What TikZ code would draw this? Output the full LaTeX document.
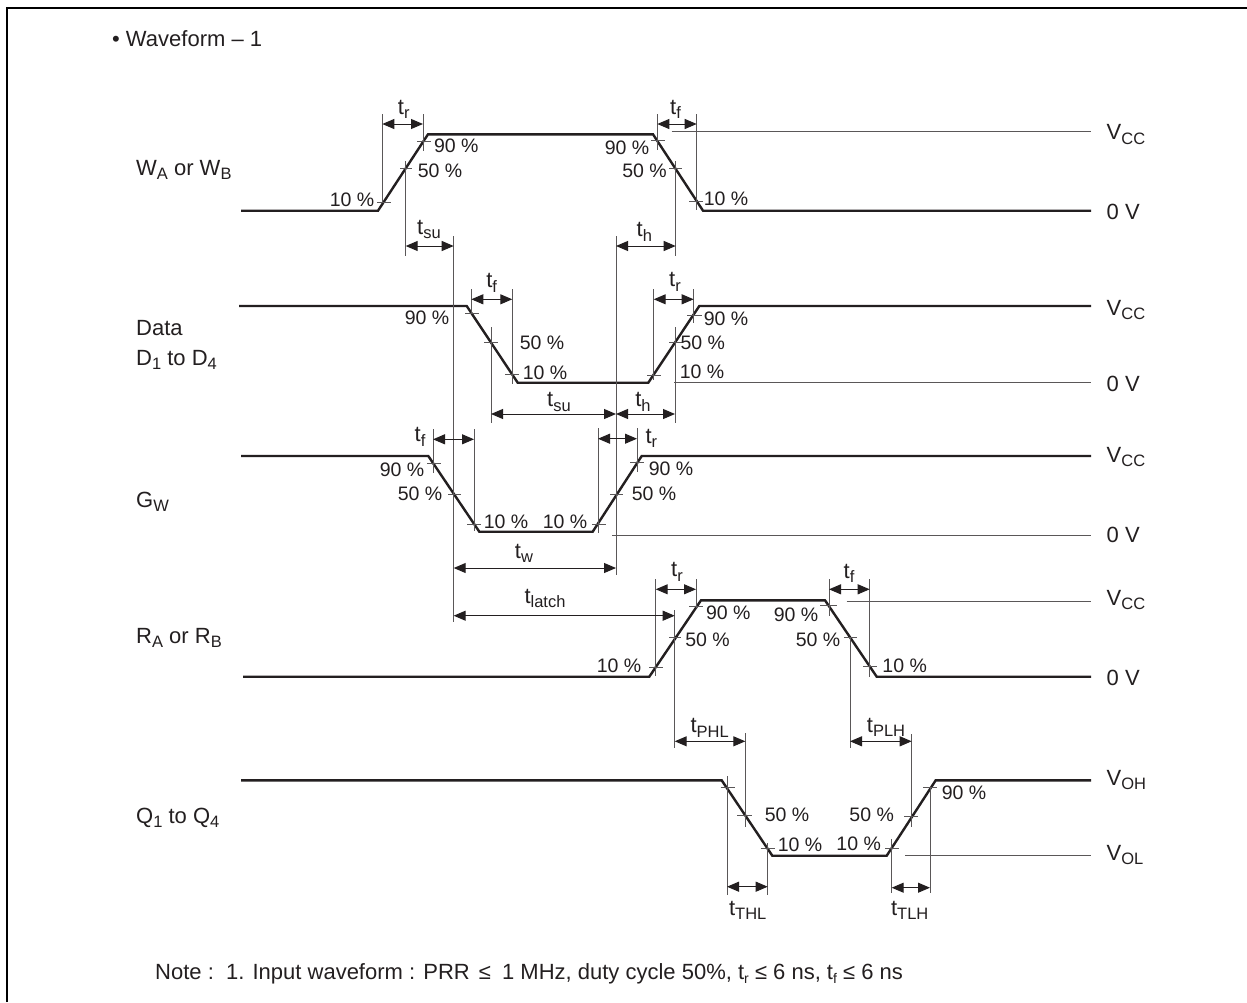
\documentclass[tikz,border=0pt]{standalone}
\usepackage{fontspec}
\setmainfont{Liberation Sans}
\usetikzlibrary{arrows.meta}
\definecolor{ink}{HTML}{231F20}
\tikzset{
 wave/.style={draw=ink,line width=2.4pt,line join=miter},
 thin line/.style={draw=ink!75,line width=1pt},
 tick/.style={draw=ink!75,line width=1pt},
 dim/.style={draw=ink,line width=1pt,{Triangle[length=12pt,width=10pt]}-{Triangle[length=12pt,width=10pt]}},
 lab/.style={anchor=base,inner sep=0pt,text=ink,font=\fontsize{19.5}{23}\selectfont},
 tlab/.style={anchor=base,inner sep=0pt,text=ink,font=\fontsize{22}{26}\selectfont},
 labw/.style={anchor=base west,inner sep=0pt,text=ink,font=\fontsize{22}{26}\selectfont},
}
\newcommand{\sbs}[1]{\raisebox{-0.22em}{\fontsize{16.5}{19}\selectfont #1}}
\newcommand{\nsb}[1]{\raisebox{-0.2em}{\fontsize{14}{16}\selectfont #1}}
\begin{document}
\begin{tikzpicture}[x=1pt,y=-1pt]
\useasboundingbox (0,0) rectangle (1247,1002);
\fill[white] (0,0) rectangle (1247,1002);
\draw[draw=black,line width=2pt] (7,1002) -- (7,7.5) -- (1247,7.5);
% waveforms
\draw[wave] (241,210.7) -- (378,210.7) -- (428,134.3) -- (653,134.3) -- (703,210.7) -- (1091,210.7);
\draw[wave] (239,306) -- (466.7,306) -- (517.7,382.7) -- (648.3,382.7) -- (699.3,306) -- (1091,306);
\draw[wave] (241,456) -- (428.3,456) -- (479.3,531.7) -- (592.7,531.7) -- (641.7,456) -- (1091,456);
\draw[wave] (243,676.7) -- (649.3,676.7) -- (701,600.3) -- (825,600.3) -- (876.7,676.7) -- (1091,676.7);
\draw[wave] (241,780.3) -- (721.7,780.3) -- (772.3,855.7) -- (886.7,855.7) -- (935.7,780.3) -- (1091,780.3);
% reference lines
\draw[thin line] (671.7,131.3) -- (1091,131.3);
\draw[thin line] (674,382.7) -- (1091,382.7);
\draw[thin line] (612,535) -- (1091,535);
\draw[thin line] (846.7,601.3) -- (1091,601.3);
\draw[thin line] (905,855.7) -- (1091,855.7);
% verticals
\foreach \x/\a/\b in {382.3/114/203,423/114/151,405.7/161/256,453.7/236/621.7,657.3/114/150,696.7/114/210,675.7/161/256,616/236/575,
 471.3/289/313,512.3/289/384,491/327/422.7,653.7/289/380,693.7/289/323,675/327/422.7,
 433/429/473,474/429/531,598/428/533,637/428/472,
 655.7/579/676,696/579/608,674.7/610/747.7,829/579/616,869.7/579/676.7,850/637/747.7,
 745.3/733.3/826.7,911.7/734/826.7,727/776/895,767.7/843/895,891.7/839/893,930/786.7/893}
 \draw[thin line] (\x,\a) -- (\x,\b);
% ticks
\foreach \y/\a/\b in {202.7/377/391,141.7/417/431,168.7/400/412,140/651/665,168.7/669/682,201/689/703,
 313.3/465/479,342.7/484/498,374.3/505/519,315/687/702,342.7/669/683,375.7/647/661,
 463.3/427/441,494.7/448/461,524.3/467/481,462.7/630/644,494.7/610/623,524.3/592/606,
 606.7/689/703,637.7/669/681,667.7/649/663,605.7/820/837,637.7/844/857,666.7/863/877,
 787.3/720.7/735,815.7/737/751.7,848.3/760.7/775,848.3/885/899,816.7/904/918,787.3/923/937}
 \draw[tick] (\a,\y) -- (\b,\y);
% dimension arrows
\foreach \y/\a/\b in {124/382.3/423,124/657.3/696.7,246/405.7/453.7,246/616/675.7,
 299.3/471.3/512.3,299.3/653.7/693.7,414/491/616,414/616/675,
 439.3/433/474,438.7/598/637,568/453.7/616,615.7/453.7/674.7,
 589.3/655.7/696,589.3/829/869.7,741.3/674.7/745.3,741.3/850/911.7,886.7/727/767.7,887.7/891.7/930}
 \draw[dim] (\a,\y) -- (\b,\y);
% timing labels
\node[tlab] (t1) at (403.7,114) {t\sbs{r}};
\node[tlab] (t2) at (675.5,114) {t\sbs{f}};
\node[tlab] (t3) at (429,234) {t\sbs{su}};
\node[tlab] (t4) at (644.3,236.7) {t\sbs{h}};
\node[tlab] (t5) at (491.6,287.3) {t\sbs{f}};
\node[tlab] (t6) at (675,286.7) {t\sbs{r}};
\node[tlab] (t7) at (559,406.7) {t\sbs{su}};
\node[tlab] (t8) at (643,406.7) {t\sbs{h}};
\node[tlab] (t9) at (420,441.7) {t\sbs{f}};
\node[tlab] (t10) at (651.3,443) {t\sbs{r}};
\node[tlab] (t11) at (524,558) {t\sbs{w}};
\node[tlab] (t12) at (545,603) {t\sbs{latch}};
\node[tlab] (t13) at (677,576.7) {t\sbs{r}};
\node[tlab] (t14) at (849,578) {t\sbs{f}};
\node[tlab] (t15) at (709.7,732.3) {t\sbs{PHL}};
\node[tlab] (t16) at (886,732) {t\sbs{PLH}};
\node[tlab] (t17) at (747.7,915) {t\sbs{THL}};
\node[tlab] (t18) at (909.7,915) {t\sbs{TLH}};
% percent labels
\node[lab] (p1) at (456.3,152.7) {90 \%};
\node[lab] (p2) at (440,177.7) {50 \%};
\node[lab] (p3) at (352,206.7) {10 \%};
\node[lab] (p4) at (627,154) {90 \%};
\node[lab] (p5) at (644.5,177.7) {50 \%};
\node[lab] (p6) at (726,205) {10 \%};
\node[lab] (p7) at (427,324) {90 \%};
\node[lab] (p8) at (726,325) {90 \%};
\node[lab] (p9) at (542,349) {50 \%};
\node[lab] (p10) at (702.8,349) {50 \%};
\node[lab] (p11) at (545,379.3) {10 \%};
\node[lab] (p12) at (702,378.3) {10 \%};
\node[lab] (p13) at (402,476.7) {90 \%};
\node[lab] (p14) at (420,500) {50 \%};
\node[lab] (p15) at (506,528.3) {10 \%};
\node[lab] (p16) at (565,528.3) {10 \%};
\node[lab] (p17) at (671,475) {90 \%};
\node[lab] (p18) at (654,500) {50 \%};
\node[lab] (p19) at (728.3,619) {90 \%};
\node[lab] (p20) at (707.5,646.7) {50 \%};
\node[lab] (p21) at (796,621.7) {90 \%};
\node[lab] (p22) at (818,646.7) {50 \%};
\node[lab] (p23) at (904.7,672.7) {10 \%};
\node[lab] (p24) at (619,672) {10 \%};
\node[lab] (p25) at (787,821.7) {50 \%};
\node[lab] (p26) at (871.7,821.7) {50 \%};
\node[lab] (p27) at (800,851.7) {10 \%};
\node[lab] (p28) at (858.7,850) {10 \%};
\node[lab] (p29) at (964,799) {90 \%};
% signal names
\node[labw] (s1) at (136,175) {W\sbs{A} or W\sbs{B}};
\node[labw] (s2) at (136,335) {Data};
\node[labw] (s3) at (136,365) {D\sbs{1} to D\sbs{4}};
\node[labw] (s4) at (136,507) {G\sbs{W}};
\node[labw] (s5) at (136,643) {R\sbs{A} or R\sbs{B}};
\node[labw] (s6) at (136,823) {Q\sbs{1} to Q\sbs{4}};
% levels
\node[labw] (v1) at (1106.5,139.5) {V\sbs{CC}};
\node[labw] (v2) at (1106.5,219.5) {0 V};
\node[labw] (v3) at (1106.5,315) {V\sbs{CC}};
\node[labw] (v4) at (1106.5,391.5) {0 V};
\node[labw] (v5) at (1106.5,462) {V\sbs{CC}};
\node[labw] (v6) at (1106.5,542) {0 V};
\node[labw] (v7) at (1106.5,605) {V\sbs{CC}};
\node[labw] (v8) at (1106.5,685) {0 V};
\node[labw] (v9) at (1106.5,785) {V\sbs{OH}};
\node[labw] (v10) at (1106.5,860) {V\sbs{OL}};
% title and note
\node[labw] (title) at (112,46.5) {• Waveform – 1};
\node[labw] (note) at (155,979) {Note :\ \ 1. Input waveform : PRR\hspace{3pt} ≤\hspace{5pt} 1 MHz, duty cycle 50\%, t\nsb{r} ≤ 6 ns, t\nsb{f} ≤ 6 ns};
\end{tikzpicture}
\end{document}
